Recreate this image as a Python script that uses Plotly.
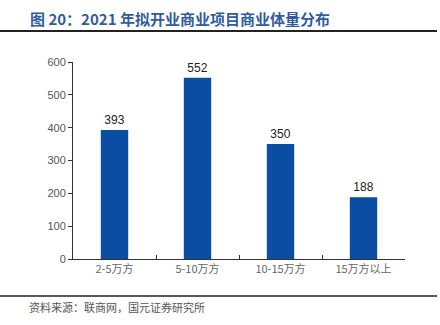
import plotly.graph_objects as go

categories = ["2-5万方", "5-10万方", "10-15万方", "15万方以上"]
values = [393, 552, 350, 188]
y_ticks = [0, 100, 200, 300, 400, 500, 600]

W, H = 440, 325
L, R, T, B = 73, 35, 62, 66

fig = go.Figure()
fig.add_trace(go.Bar(
    x=categories, y=values,
    marker=dict(color="#0B4DA2", line=dict(width=0)),
    width=0.33,
    text=[str(v) for v in values],
    textposition="outside",
    textfont=dict(family="Liberation Sans, Arial", size=12, color="#222222"),
    cliponaxis=False,
))

fig.update_layout(
    width=W, height=H,
    margin=dict(l=L, r=R, t=T, b=B),
    paper_bgcolor="white", plot_bgcolor="white",
    showlegend=False,
    font=dict(family="Liberation Sans, Arial", color="#555555"),
    xaxis=dict(
        type="category",
        showline=True, linecolor="#333333", linewidth=1,
        ticks="inside", tickson="boundaries", ticklen=4, tickcolor="#333333",
        tickfont=dict(family="Noto Sans CJK SC", size=11, color="#666666"),
        showgrid=False,
    ),
    yaxis=dict(
        range=[0, 600],
        tickvals=y_ticks,
        showline=True, linecolor="#333333", linewidth=1,
        ticks="outside", ticklen=4, tickcolor="#333333",
        tickfont=dict(family="Liberation Sans, Arial", size=11, color="#555555"),
        showgrid=False, zeroline=False,
    ),
    shapes=[
        dict(type="line", xref="paper", yref="paper",
             x0=-L / (W - L - R), x1=(W - L - 3) / (W - L - R),
             y0=1 + (T - 31) / (H - T - B), y1=1 + (T - 31) / (H - T - B),
             line=dict(color="#222222", width=2)),
        dict(type="line", xref="paper", yref="paper",
             x0=-L / (W - L - R), x1=(W - L - 3) / (W - L - R),
             y0=-(296 - (H - B)) / (H - T - B), y1=-(296 - (H - B)) / (H - T - B),
             line=dict(color="#222222", width=1.5)),
    ],
    annotations=[
        dict(text="<b>图 20：2021 年拟开业商业项目商业体量分布</b>",
             xref="paper", yref="paper",
             x=(28 - L) / (W - L - R), xanchor="left",
             y=1 + (T - 18) / (H - T - B), yanchor="middle",
             showarrow=False,
             font=dict(family="Noto Sans CJK SC", size=15, color="#2F5C9E")),
        dict(text="资料来源：联商网，国元证券研究所",
             xref="paper", yref="paper",
             x=(27 - L) / (W - L - R), xanchor="left",
             y=-(307 - (H - B)) / (H - T - B), yanchor="middle",
             showarrow=False,
             font=dict(family="Noto Sans CJK SC", size=11, color="#555555")),
    ],
)

fig.write_html("out.html")
